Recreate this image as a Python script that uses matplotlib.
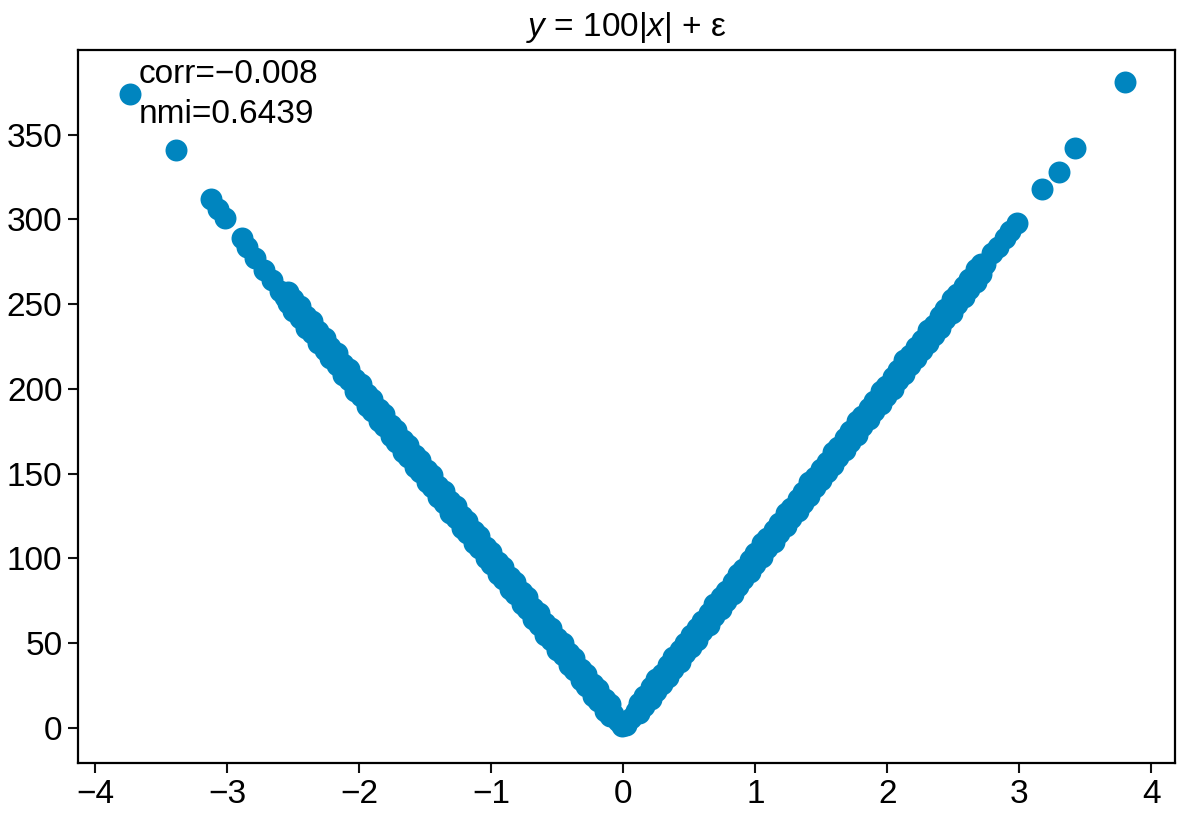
import matplotlib
matplotlib.use('Agg')
from matplotlib import pyplot as plt
import numpy as np

plt.rcParams['font.family'] = ['Liberation Sans', 'DejaVu Sans']
plt.rcParams['mathtext.fontset'] = 'custom'
plt.rcParams['mathtext.rm'] = 'Liberation Sans'
plt.rcParams['mathtext.it'] = 'Liberation Sans:italic'

# values
x_left = [-3.74, -3.39, -3.12, -3.07, -3.02, -2.89, -2.85, -2.79, -2.72, -2.66,
          -2.60, -2.56, -2.48, -2.42, -2.38, -2.33, -2.28, -2.24, -2.19, -2.14,
          -2.10, -2.05, -2.01, -1.96, -1.92, -1.87, -1.83, -1.78, -1.74, -1.69,
          -1.65, -1.60, -1.56, -1.51, -1.47, -1.42, -1.38, -1.33, -1.29, -1.24,
          -1.20, -1.15, -1.11, -1.06, -1.02, -0.97, -0.93, -0.88, -0.84, -0.79,
          -0.75, -0.70, -0.66, -0.61, -0.57, -0.52, -0.48, -0.43, -0.39, -0.34,
          -0.30, -0.25, -0.21, -0.16, -0.12, -0.08, -0.04, -0.01]
y_left = [374, 341, 312, 306, 301, 289, 284, 277, 270, 264,
          258, 254, 246, 241, 236, 232, 227, 223, 218, 214,
          209, 205, 200, 196, 191, 187, 182, 178, 174, 169,
          165, 160, 156, 151, 147, 142, 138, 133, 129, 124,
          120, 115, 111, 106, 102, 97, 93, 88, 84, 79,
          75, 70, 66, 61, 57, 52, 48, 43, 39, 34,
          30, 25, 21, 16, 12, 8, 4, 1]
# upper and lower edge of the dense left band
x_left_edge = [-2.54, -2.50, -2.45, -2.40, -2.36, -2.31, -2.26, -2.22, -2.17, -2.12,
               -2.08, -2.03, -1.99, -1.94, -1.90, -1.85, -1.81, -1.76, -1.72, -1.67,
               -1.63, -1.58, -1.54, -1.49, -1.45, -1.40, -1.36, -1.31, -1.27, -1.22,
               -1.18, -1.13, -1.09, -1.04, -1.00, -0.95, -0.91, -0.86, -0.82, -0.77,
               -0.73, -0.68, -0.64, -0.59, -0.55, -0.50, -0.46, -0.41, -0.37, -0.32,
               -0.28, -0.23, -0.19, -0.14, -0.10]
y_left_upper = [257, 253, 249, 243, 240, 234, 230, 225, 221, 215,
                212, 206, 203, 197, 194, 188, 185, 179, 176, 170,
                167, 161, 158, 152, 149, 143, 140, 134, 131, 125,
                122, 116, 113, 107, 104, 98, 95, 89, 86, 80,
                77, 71, 68, 62, 59, 53, 50, 44, 41, 35,
                32, 26, 23, 17, 14]
y_left_lower = [251, 246, 242, 236, 233, 227, 223, 218, 214, 208,
                205, 199, 196, 190, 187, 181, 178, 172, 169, 163,
                160, 154, 151, 145, 142, 136, 133, 127, 124, 118,
                115, 109, 106, 100, 97, 91, 88, 82, 79, 73,
                70, 64, 61, 55, 52, 46, 43, 37, 34, 28,
                25, 19, 16, 10, 7]
x_right = [0.02, 0.06, 0.10, 0.14, 0.18, 0.23, 0.27, 0.31, 0.36, 0.40,
           0.45, 0.49, 0.53, 0.58, 0.62, 0.67, 0.71, 0.76, 0.80, 0.85,
           0.89, 0.93, 0.98, 1.02, 1.07, 1.11, 1.16, 1.20, 1.25, 1.29,
           1.34, 1.38, 1.43, 1.47, 1.52, 1.56, 1.61, 1.65, 1.70, 1.74,
           1.79, 1.83, 1.88, 1.92, 1.97, 2.01, 2.06, 2.10, 2.15, 2.19,
           2.24, 2.28, 2.33, 2.37, 2.42, 2.46, 2.51, 2.55, 2.60, 2.64,
           2.69, 2.74, 2.79, 2.84, 2.89, 2.93, 2.98, 3.17, 3.30, 3.42, 3.80]
y_right = [2, 6, 10, 14, 18, 23, 27, 31, 36, 40,
           45, 49, 53, 58, 62, 67, 71, 76, 80, 85,
           89, 93, 98, 102, 107, 111, 116, 120, 125, 129,
           134, 138, 143, 147, 152, 156, 161, 165, 170, 174,
           179, 183, 188, 192, 197, 201, 206, 210, 215, 219,
           224, 228, 233, 237, 242, 246, 251, 255, 260, 264,
           269, 274, 280, 284, 289, 293, 298, 318, 328, 342, 381]
# upper and lower edge of the dense right band
x_right_edge = [0.12, 0.16, 0.21, 0.25, 0.29, 0.34, 0.38, 0.43, 0.47, 0.51,
                0.56, 0.60, 0.65, 0.69, 0.74, 0.78, 0.83, 0.87, 0.91, 0.96,
                1.00, 1.05, 1.09, 1.14, 1.18, 1.23, 1.27, 1.32, 1.36, 1.41,
                1.45, 1.50, 1.54, 1.59, 1.63, 1.68, 1.72, 1.77, 1.81, 1.86,
                1.90, 1.95, 1.99, 2.04, 2.08, 2.13, 2.17, 2.22, 2.26, 2.31,
                2.35, 2.40, 2.44, 2.49, 2.53, 2.58, 2.62, 2.67, 2.71]
y_right_upper = [15, 19, 24, 29, 32, 37, 42, 46, 50, 55,
                 59, 63, 68, 73, 77, 81, 86, 91, 94, 99,
                 103, 109, 112, 117, 121, 127, 130, 135, 139, 145,
                 148, 153, 157, 163, 166, 171, 175, 181, 184, 189,
                 193, 199, 202, 207, 211, 217, 220, 225, 229, 235,
                 238, 243, 247, 253, 256, 261, 265, 271, 274]
y_right_lower = [9, 13, 17, 22, 26, 30, 35, 39, 44, 48,
                 52, 57, 61, 66, 70, 75, 79, 84, 88, 92,
                 97, 101, 106, 110, 115, 119, 124, 128, 133, 137,
                 142, 146, 151, 155, 160, 164, 169, 173, 178, 182,
                 187, 191, 196, 200, 205, 209, 214, 218, 223, 227,
                 232, 236, 241, 245, 250, 254, 259, 263, 268]
title = r'$y$ = 100|$x$| + ε'
stats = ['corr=\u22120.008', 'nmi=0.6439']

x = np.array(x_left + x_left_edge + x_left_edge + x_right + x_right_edge + x_right_edge)
y = np.array(y_left + y_left_upper + y_left_lower + y_right + y_right_upper + y_right_lower)

fig = plt.figure(figsize=(11.93, 8.18), dpi=100)
ax = fig.add_axes([0.0654, 0.0672, 0.9196, 0.8717])
ax.scatter(x, y, s=250, color='#0085bf', linewidths=0, zorder=3)

ax.set_xlim(-4.13, 4.18)
ax.set_ylim(-20.7, 400)
ax.set_xticks(range(-4, 5))
ax.set_yticks(range(0, 351, 50))
ax.tick_params(labelsize=24, length=7.2, width=1.5, color='#111111', pad=4)
for sp in ax.spines.values():
    sp.set_linewidth(1.6)
ax.set_title(title, fontsize=24, pad=10)

ax.text(0.055, 0.954, stats[0], transform=ax.transAxes, fontsize=24, va='baseline')
ax.text(0.055, 0.898, stats[1], transform=ax.transAxes, fontsize=24, va='baseline')

plt.savefig('out.png', dpi=100)
